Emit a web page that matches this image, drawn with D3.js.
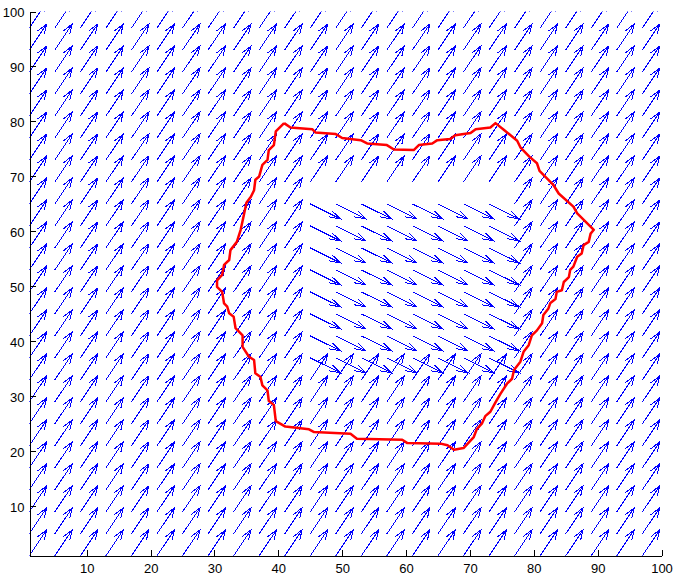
<!DOCTYPE html>
<html>
<head>
<meta charset="utf-8">
<script src="https://cdn.jsdelivr.net/npm/d3@7/dist/d3.min.js"></script>
<style>
  html, body { margin: 0; padding: 0; background: #fff; }
  svg { display: block; }
  text { font-family: "Liberation Sans", Arial, Helvetica, sans-serif; }
</style>
</head>
<body>
<svg id="chart" width="681" height="583"></svg>
<script>
// ---- data ----
const gridX = [1, 5, 9, 13, 17, 21, 25, 29, 33, 37, 41, 45, 49, 53, 57, 61, 65, 69, 73, 77, 81, 85, 89, 93, 97];
const gridY = [1, 5, 9, 13, 17, 21, 25, 29, 33, 37, 41, 45, 49, 53, 57, 61, 65, 69, 73, 77, 81, 85, 89, 93, 97];
const outerVector = [0.5, 0.866];      // field outside the inner block
const innerVector = [0.866, -0.5];     // field inside the inner block
const innerXRange = [45, 73];
const innerYRange = [37, 65];
const arrowScale = 5.45;

const boundaryX = [40.9, 41.9, 45.3, 45.8, 49.0, 50.0, 52.9, 53.9, 57.0, 58.1, 61.2, 62.0, 64.1, 64.9, 66.9, 67.7, 70.1, 70.9, 73.2, 74.0,
  75.3, 77.4, 77.9, 79.3, 80.5, 80.9, 83.1, 83.9, 86.2, 86.8, 89.4,
  88.9, 88.6, 87.8, 87.5, 86.8, 86.2, 85.7, 85.5, 84.7, 84.4, 83.6, 83.4, 82.6, 82.3, 81.5, 81.3, 80.5, 79.7, 79.2, 78.4, 77.9, 76.9, 76.6, 75.8, 74.8, 74.0, 73.2, 72.4, 71.9, 71.1, 70.6, 69.0, 67.5, 66.5, 65.4,
  60.2, 59.4, 52.3, 51.3, 45.6, 44.8, 41.1, 39.6,
  39.3, 38.5, 38.3, 37.5, 37.2, 36.4, 36.2, 35.4, 34.4, 34.4, 33.3, 33.0, 32.3, 32.0, 31.5, 31.2, 30.4, 30.4, 31.2, 31.5, 32.3, 32.5, 33.5, 34.1, 34.6, 35.0, 35.7, 36.2, 36.4, 37.0, 37.5, 38.3, 38.5, 39.3, 39.6, 40.9];
const boundaryY = [79.7, 78.9, 78.6, 78.0, 77.7, 77.0, 76.6, 76.0, 75.7, 74.9, 74.8, 75.7, 76.0, 76.6, 76.8, 77.5, 77.9, 78.6, 78.9, 79.7,
  78.5, 76.5, 75.3, 73.6, 72.4, 71.0, 68.4, 66.9, 64.5, 63.3, 60.3,
  59.6, 58.1, 57.5, 56.0, 55.4, 53.6, 53.0, 51.7, 50.8, 49.3, 49.0, 47.7, 47.0, 46.0, 44.8, 43.3, 42.0, 41.1, 39.3, 38.1, 36.3, 34.8, 33.2, 32.3, 30.5, 28.9, 27.2, 26.4, 25.1, 24.1, 22.6, 20.6, 20.3, 21.1, 21.4,
  21.5, 22.1, 22.3, 23.2, 23.5, 24.0, 24.5, 25.5,
  28.4, 29.2, 31.1, 32.0, 33.5, 34.2, 36.6, 37.2, 39.0, 41.1, 42.4, 44.5, 45.1, 46.3, 46.9, 49.0, 49.9, 51.1, 52.1, 53.9, 54.8, 56.6, 58.1, 60.3, 63.0, 65.2, 66.3, 67.5, 69.4, 70.0, 72.1, 73.0, 74.8, 75.7, 78.2, 79.7];

const xTicks = [10, 20, 30, 40, 50, 60, 70, 80, 90, 100];
const yTicks = [10, 20, 30, 40, 50, 60, 70, 80, 90, 100];
const xDomain = [1, 100];
const yDomain = [1, 100];

// ---- layout ----
const svg = d3.select("#chart");
const x = d3.scaleLinear().domain(xDomain).range([29.3, 661.5]);
const y = d3.scaleLinear().domain(yDomain).range([555.8, 11.5]);

svg.append("defs").append("clipPath").attr("id", "plotclip")
  .append("rect")
  .attr("x", x(xDomain[0])).attr("y", y(yDomain[1]))
  .attr("width", x(xDomain[1]) - x(xDomain[0]))
  .attr("height", y(yDomain[0]) - y(yDomain[1]));

const plot = svg.append("g").attr("clip-path", "url(#plotclip)");

// ---- quiver arrows ----
const alpha = 0.33, beta = 0.33;
const arrows = [];
gridX.forEach(gx => {
  gridY.forEach(gy => {
    const inside = gx >= innerXRange[0] && gx <= innerXRange[1] && gy >= innerYRange[0] && gy <= innerYRange[1];
    const vec = inside ? innerVector : outerVector;
    arrows.push({ x: gx, y: gy, u: vec[0] * arrowScale, v: vec[1] * arrowScale });
  });
});

function arrowPath(a) {
  const tx = a.x + a.u, ty = a.y + a.v;
  const b1x = tx - alpha * (a.u + beta * a.v), b1y = ty - alpha * (a.v - beta * a.u);
  const b2x = tx - alpha * (a.u - beta * a.v), b2y = ty - alpha * (a.v + beta * a.u);
  return `M${x(a.x)},${y(a.y)}L${x(tx)},${y(ty)}` +
         `M${x(b1x)},${y(b1y)}L${x(tx)},${y(ty)}L${x(b2x)},${y(b2y)}`;
}

plot.append("g")
  .selectAll("path")
  .data(arrows)
  .join("path")
  .attr("d", arrowPath)
  .attr("fill", "none")
  .attr("stroke", "#0000ff")
  .attr("stroke-width", 1)
  .attr("shape-rendering", "crispEdges");

// ---- boundary ----
const boundary = boundaryX.map((bx, i) => [bx, boundaryY[i]]);
plot.append("path")
  .datum(boundary)
  .attr("d", d3.line().x(d => x(d[0])).y(d => y(d[1])))
  .attr("fill", "none")
  .attr("stroke", "#ff0000")
  .attr("stroke-width", 2.5)
  .attr("stroke-linejoin", "round");

// ---- axes ----
const xAxis = d3.axisBottom(x).tickValues(xTicks).tickSizeInner(-6).tickSizeOuter(0).tickPadding(10);
const yAxis = d3.axisLeft(y).tickValues(yTicks).tickSizeInner(-6).tickSizeOuter(0).tickPadding(10);

const gx = svg.append("g").attr("transform", `translate(0,${555.5})`).call(xAxis);
const gy = svg.append("g").attr("transform", `translate(${29.5},0)`).call(yAxis);

[gx, gy].forEach(g => {
  g.select(".domain").attr("stroke", "#000").attr("stroke-width", 1).attr("shape-rendering", "crispEdges");
  g.selectAll(".tick line").attr("stroke", "#000").attr("shape-rendering", "crispEdges");
  g.selectAll(".tick text").attr("fill", "#000").attr("font-size", "13px")
    .attr("font-family", "'Liberation Sans', Arial, Helvetica, sans-serif");
});
gx.selectAll(".tick text").attr("dy", null).attr("y", 17).attr("dominant-baseline", "auto");
gy.selectAll(".tick text").attr("dy", null).attr("x", -5).attr("y", 4.7);
</script>
</body>
</html>
